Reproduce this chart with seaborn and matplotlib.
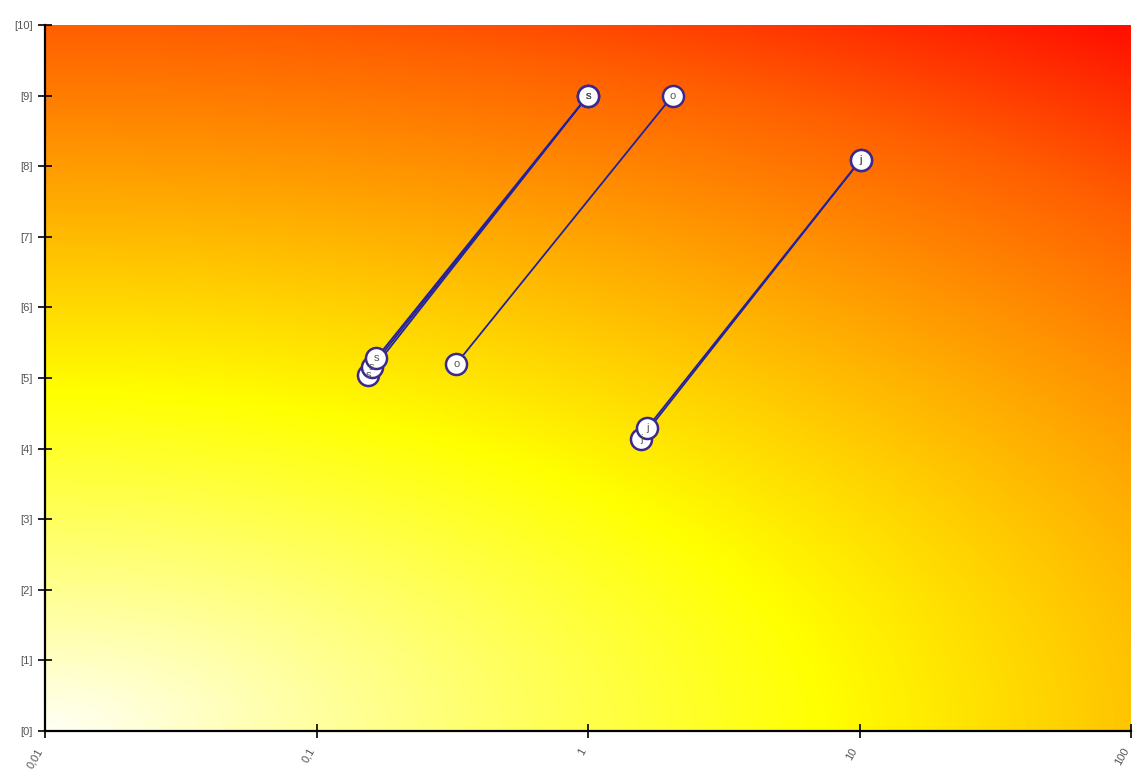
import numpy as np
import pandas as pd
import matplotlib
matplotlib.use("Agg")
import matplotlib.pyplot as plt
from matplotlib.colors import LinearSegmentedColormap
import seaborn as sns

# ---- data ----
series = ["s", "s", "s", "o", "j", "j"]
start_x = [0.155, 0.160, 0.166, 0.327, 1.57, 1.65]
start_y = [5.04, 5.16, 5.28, 5.20, 4.14, 4.29]
end_x = [1.0, 1.0, 1.0, 2.05, 10.1, 10.1]
end_y = [9.0, 9.0, 9.0, 9.0, 8.09, 8.09]
x_ticks = [0.01, 0.1, 1, 10, 100]
x_tick_labels = ["0,01", "0,1", "1", "10", "100"]
y_ticks = list(range(0, 11))
y_tick_labels = [f"[{v}]" for v in y_ticks]

sns.set_style("white")
plt.rcParams['font.family'] = ['Liberation Sans', 'DejaVu Sans']

fig = plt.figure(figsize=(11.35, 7.78), dpi=100)
ax = fig.add_axes([45/1135, 47/778, (1131-45)/1135, (731-25)/778])

# background gradient
nu, nv = 400, 300
u = np.linspace(0, 1, nu)
v = np.linspace(0, 1, nv)
U, V = np.meshgrid(u, v)
F = np.sqrt((0.67*U)**2 + V**2) / 1.2
cmap = LinearSegmentedColormap.from_list("bg", [
    (0.0, "#fffff5"), (0.40, "#ffff00"), (0.56, "#ffc400"),
    (0.83, "#ff6000"), (1.0, "#ff1000")])
ax.imshow(cmap(F), extent=[0, 1, 0, 1], transform=ax.transAxes,
          origin="lower", aspect="auto", zorder=0, interpolation="bilinear")

# segments
rows = []
for i, (s, x0, y0, x1, y1) in enumerate(zip(series, start_x, start_y, end_x, end_y)):
    rows.append(dict(seg=i, series=s, x=x0, y=y0))
    rows.append(dict(seg=i, series=s, x=x1, y=y1))
df = pd.DataFrame(rows)

sns.lineplot(data=df, x="x", y="y", units="seg", estimator=None, sort=False,
             color="#2222a0", linewidth=1.3, ax=ax, zorder=2, legend=False)

pts = pd.DataFrame(dict(x=start_x + end_x[::-1], y=start_y + end_y[::-1],
                        lab=series + series[::-1]))
for _, r in pts.iterrows():
    sns.scatterplot(x=[r.x], y=[r.y], s=230, color="white", edgecolor="#3b2a8c",
                    linewidth=1.8, ax=ax, zorder=3, legend=False)
    ax.text(r.x, r.y, r.lab, ha="center", va="center", fontsize=8,
            color="#555555", zorder=4)

ax.set_xscale("log")
ax.set_xlim(0.01, 100)
ax.set_ylim(0, 10)
ax.set_xticks(x_ticks)
ax.set_xticklabels(x_tick_labels, rotation=60, ha="right", va="top",
                   fontsize=8, color="#555555")
ax.set_yticks(y_ticks)
ax.set_yticklabels(y_tick_labels, fontsize=8, color="#555555")
ax.minorticks_off()
ax.tick_params(axis="both", which="major", bottom=True, left=True,
               direction="inout", length=10, width=1.2, color="black")
ax.tick_params(axis="y", pad=4)
ax.tick_params(axis="x", pad=6)
ax.set_xlabel("")
ax.set_ylabel("")
for sp in ["top", "right"]:
    ax.spines[sp].set_visible(False)
for sp in ["left", "bottom"]:
    ax.spines[sp].set_visible(True)
    ax.spines[sp].set_color("black")
    ax.spines[sp].set_linewidth(1.6)
    ax.spines[sp].set_zorder(5)

fig.savefig("out.png", dpi=100)
